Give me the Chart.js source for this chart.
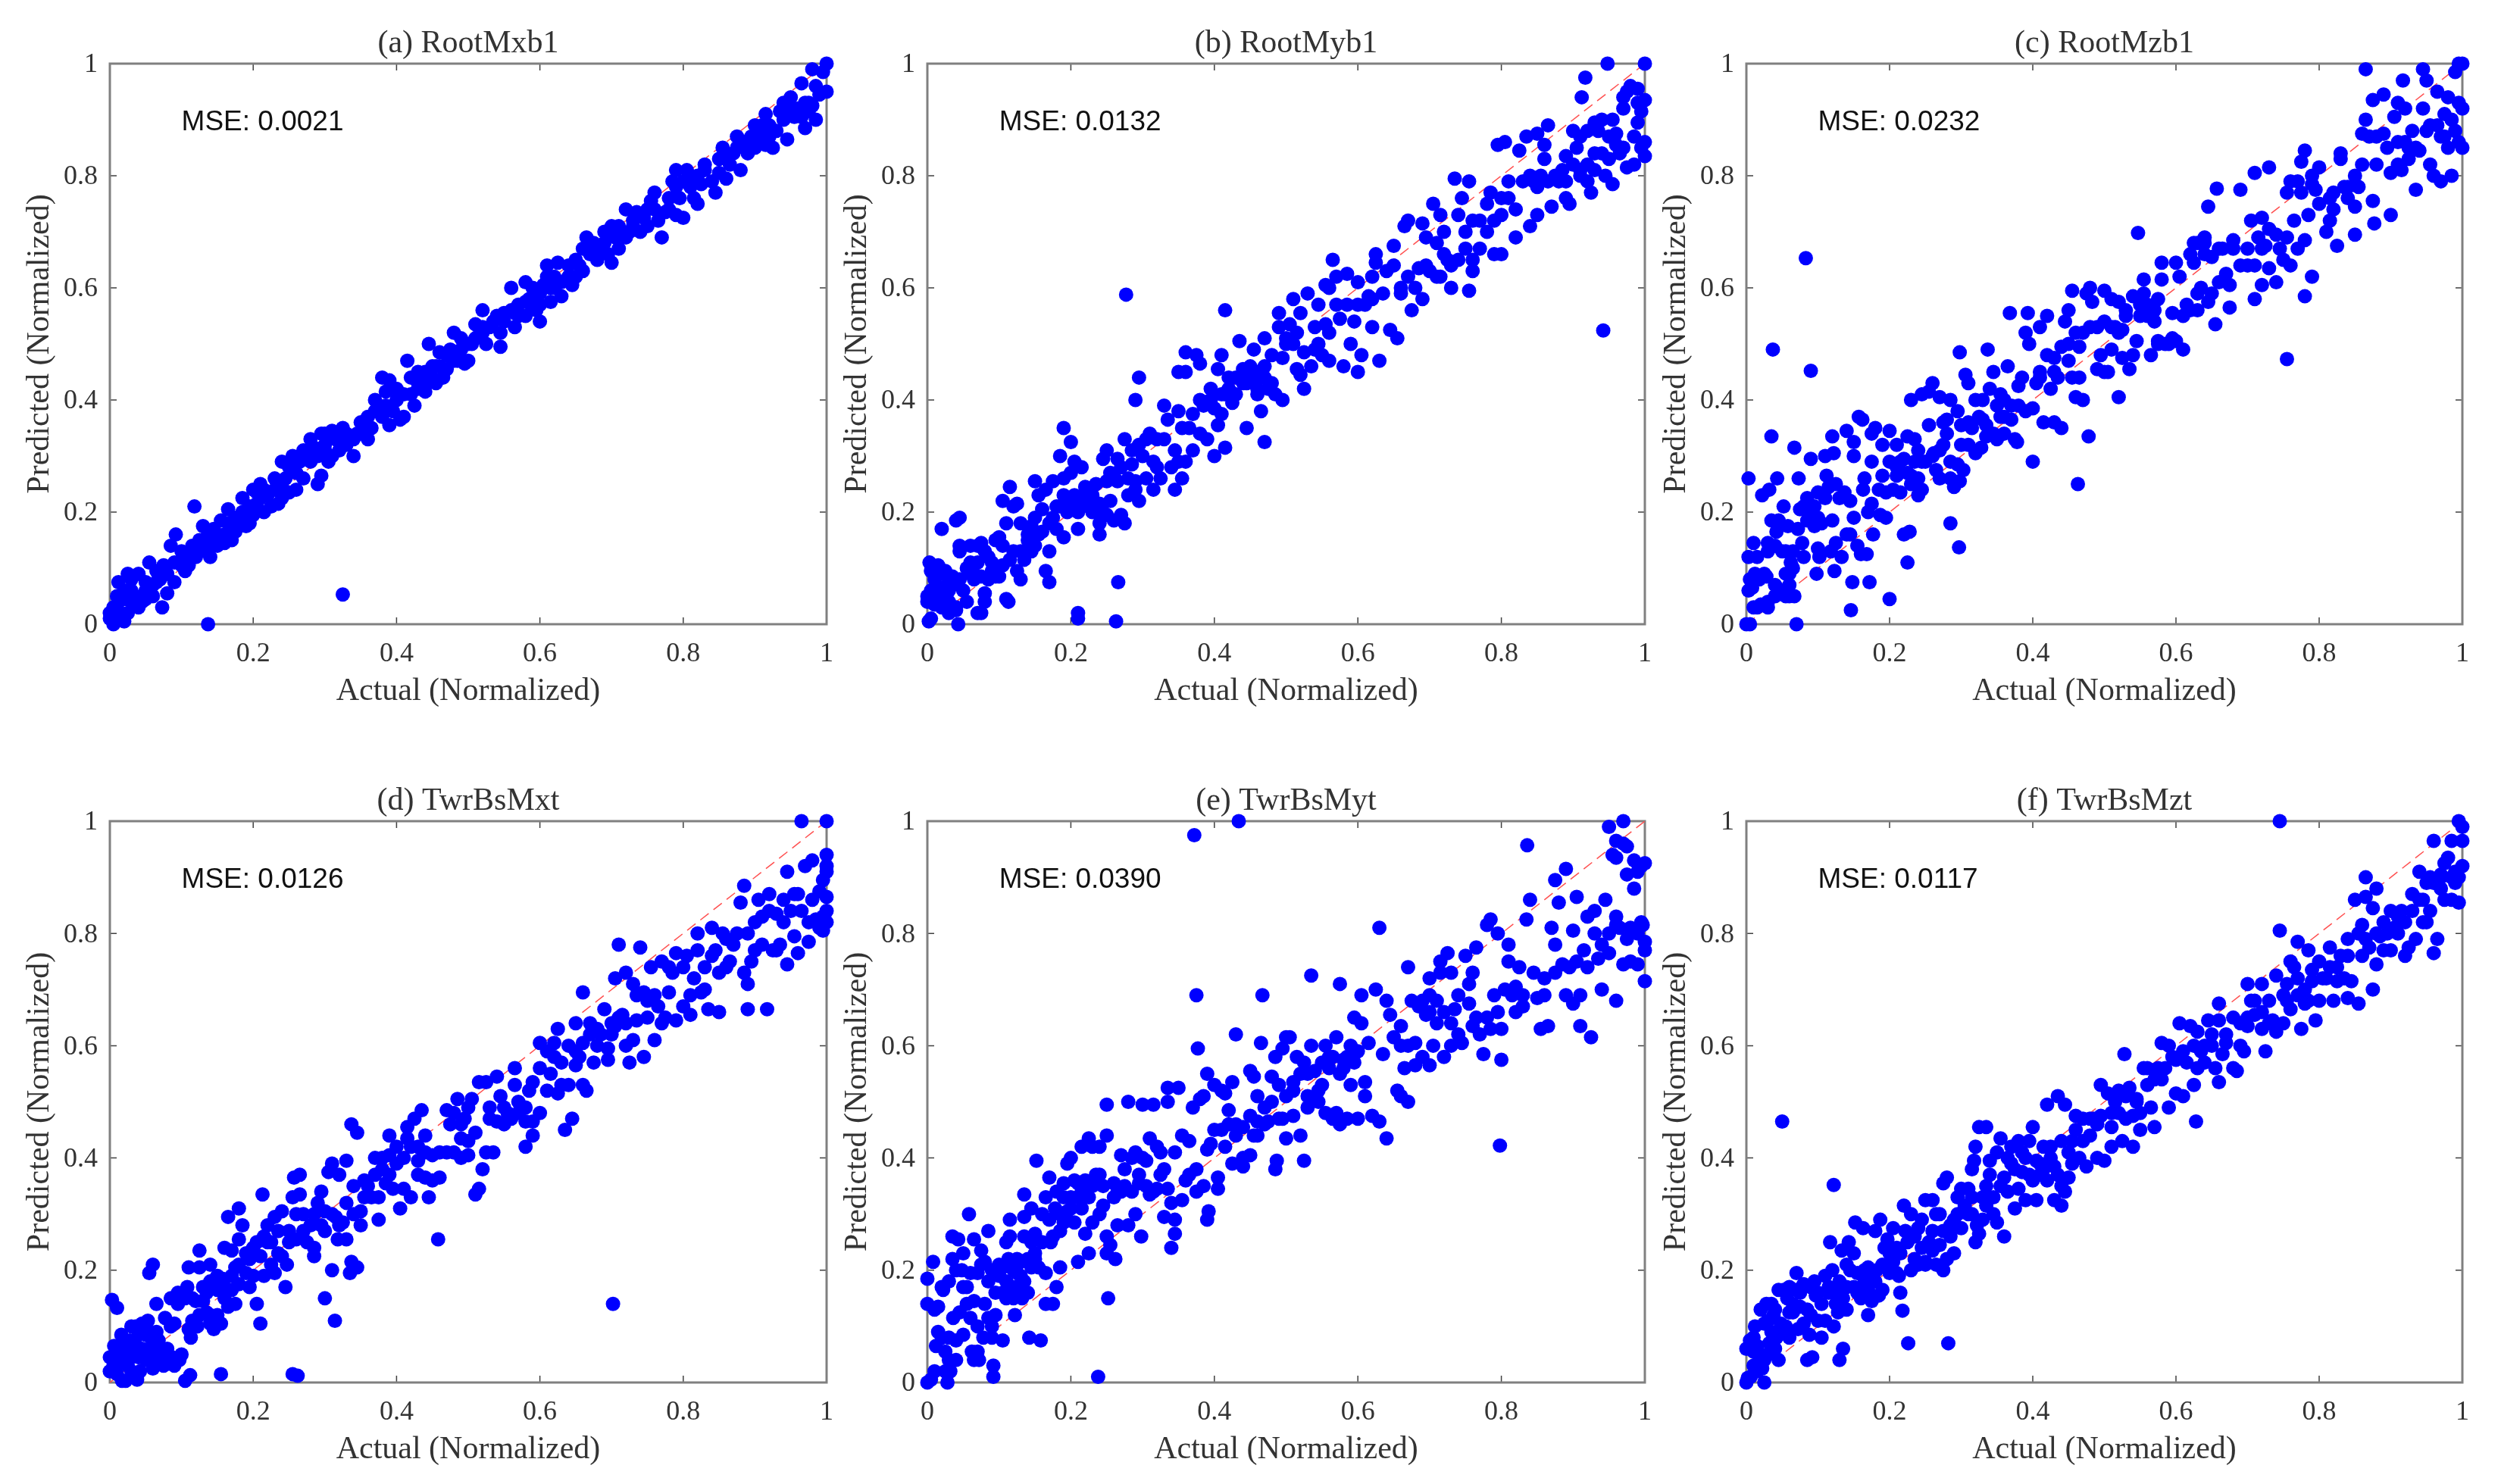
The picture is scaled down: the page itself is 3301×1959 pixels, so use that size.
<!DOCTYPE html>
<html>
<head>
<meta charset="utf-8">
<title>Predicted vs actual</title>
<script src="https://cdn.jsdelivr.net/npm/chart.js@4"></script>
<style>
  html, body { margin: 0; background: #fff; }
  #page { position: relative; width: 3301px; height: 1959px; overflow: hidden; }
  canvas { position: absolute; }
</style>
</head>
<body>
<div id="page"></div>
<script>
const panelTitles = ['(a) RootMxb1', '(b) RootMyb1', '(c) RootMzb1', '(d) TwrBsMxt', '(e) TwrBsMyt', '(f) TwrBsMzt'];
const mseLabels = ['MSE: 0.0021', 'MSE: 0.0132', 'MSE: 0.0232', 'MSE: 0.0126', 'MSE: 0.0390', 'MSE: 0.0117'];
const tickLabels = ['0', '0.2', '0.4', '0.6', '0.8', '1'];
const xAxisLabel = 'Actual (Normalized)';
const yAxisLabel = 'Predicted (Normalized)';
const referenceLine = [[0, 0], [1, 1]];

// Points are [actual, predicted]
const rootMxb1Points = [
[0,.01],[0,.02],[.005,0],[.01,.01],[.015,.015],[.02,.005],[.025,.02],[.005,.03],[.01,.05],[.012,.075],[.02,.045],[.03,.06],[.025,.09],[.04,.09],[.045,.04],[.04,.03],[.05,.045],[.055,.11],[.05,.075],[.06,.07],[.065,.095],[.07,.08],[.073,.03],[.075,.105],[.08,.055],[.09,.075],[.085,.14],[.092,.16],[.1,.13],[.105,.095],[.11,.105],[.115,.14],[.118,.21],[.125,.15],[.13,.175],[.135,.13],[.137,0],[.14,.12],[.145,.17],[.15,.14],[.155,.185],[.16,.16],[.165,.205],[.17,.15],[.175,.19],[.18,.18],[.185,.225],[.19,.2],[.195,.18],[.2,.24],[.205,.215],[.21,.25],[.215,.2],[.22,.23],[.23,.26],[.235,.215],[.24,.245],[.25,.235],[.24,.29],[.255,.3],[.26,.27],[.27,.26],[.27,.31],[.28,.33],[.28,.29],[.29,.25],[.295,.265],[.295,.34],[.3,.32],[.305,.29],[.31,.345],[.32,.31],[.325,.053],[.325,.35],[.34,.33],[.34,.3],[.35,.36],[.36,.33],[.36,.37],[.37,.4],[.38,.37],[.38,.44],[.385,.415],[.39,.355],[.39,.435],[.4,.4],[.405,.365],[.41,.37],[.42,.44],[.415,.47],[.425,.39],[.43,.45],[.44,.415],[.44,.45],[.445,.5],[.45,.46],[.455,.43],[.46,.485],[.465,.44],[.47,.455],[.48,.52],[.48,.47],[.49,.49],[.495,.465],[.5,.47],[.505,.5],[.51,.535],[.515,.515],[.52,.56],[.525,.5],[.53,.53],[.54,.55],[.545,.495],[.55,.54],[.56,.56],[.56,.6],[.565,.53],[.57,.57],[.58,.55],[.58,.61],[.585,.58],[.59,.6],[.595,.56],[.6,.54],[.6,.59],[.61,.62],[.61,.64],[.615,.575],[.62,.6],[.625,.645],[.63,.585],[.64,.62],[.65,.62],[.655,.64],[.66,.63],[.67,.66],[.665,.69],[.675,.68],[.68,.65],[.69,.7],[.695,.66],[.7,.71],[.7,.645],[.71,.67],[.72,.69],[.72,.74],[.73,.72],[.74,.7],[.735,.735],[.75,.71],[.755,.755],[.76,.77],[.765,.72],[.77,.69],[.78,.74],[.79,.73],[.785,.79],[.79,.81],[.795,.76],[.8,.725],[.805,.81],[.81,.78],[.815,.76],[.82,.75],[.82,.8],[.83,.81],[.84,.79],[.845,.77],[.85,.83],[.855,.85],[.86,.795],[.87,.84],[.875,.87],[.88,.81],[.885,.86],[.89,.84],[.895,.87],[.9,.85],[.905,.88],[.91,.87],[.915,.91],[.92,.89],[.925,.85],[.93,.88],[.94,.93],[.945,.865],[.95,.94],[.955,.905],[.96,.92],[.965,.965],[.97,.885],[.975,.93],[.98,.99],[.985,.9],[.985,.96],[.99,.945],[.995,.985],[1,1],[1,.95],
[.03,.04],[.06,.05],[.075,.09],[.1,.105],[.12,.12],[.135,.155],[.155,.155],[.17,.175],[.19,.175],[.205,.235],[.225,.21],[.24,.225],[.265,.29],[.285,.315],[.31,.3],[.33,.32],[.345,.34],[.365,.35],[.375,.39],[.395,.38],[.41,.41],[.43,.42],[.455,.46],[.475,.49],[.5,.5],[.52,.53],[.545,.52],[.565,.555],[.59,.565],[.605,.605],[.63,.61],[.645,.605],[.66,.67],[.685,.675],[.705,.69],[.725,.7],[.745,.725],[.775,.735],[.8,.79],[.825,.785],[.85,.805],[.865,.82],[.9,.89],[.915,.855],[.935,.915],[.965,.905],[.98,.925],
[.01,.03],[.02,.06],[.03,.08],[.035,.05],[.05,.06],[.065,.075],[.08,.09],[.09,.11],[.1,.115],[.11,.125],[.125,.13],[.14,.14],[.15,.16],[.16,.145],[.165,.18],[.175,.165],[.185,.2],[.195,.21],[.2,.195],[.21,.225],[.215,.24],[.23,.24],[.245,.26],[.25,.28],[.26,.24],[.275,.3],[.29,.3],[.3,.31],[.3,.34],[.315,.33],[.33,.34],[.35,.34],[.355,.35],[.37,.38],[.385,.39],[.4,.42],[.42,.41],[.43,.43],[.44,.43],[.45,.44],[.46,.46],[.47,.48],[.485,.47],[.49,.51],[.51,.51],[.52,.52],[.535,.54],[.55,.555],[.57,.55],[.58,.575],[.6,.57],[.615,.6],[.62,.62],[.64,.64],[.65,.65],[.67,.68],[.68,.67],[.69,.68],[.71,.71],[.715,.7],[.73,.71],[.75,.74],[.76,.74],[.78,.76],[.79,.78],[.81,.8],[.83,.82],[.86,.83],[.875,.85],[.89,.86],[.91,.89],[.92,.87],[.94,.9],[.95,.92],[.97,.93],[.975,.915]
];

const rootMyb1Points = [
[0,.05],[0,.04],[.005,.06],[.003,.11],[.005,.095],[.01,.08],[.015,.105],[.02,.09],[.02,.17],[.025,.095],[.03,.075],[.03,.04],[.01,.035],[.015,.055],[.02,.03],[.025,.05],[.03,.06],[.035,.07],[.035,.085],[.04,.025],[.04,.03],[.045,.08],[.04,.185],[.045,.19],[.045,.14],[.045,.13],[.055,.04],[.055,.1],[.06,.14],[.06,.09],[.065,.105],[.07,.11],[.07,.14],[.07,.02],[.075,.02],[.075,.085],[.08,.13],[.08,.055],[.08,.04],[.075,.145],[.085,.08],[.09,.11],[.095,.15],[.095,.085],[.1,.155],[.1,.085],[.105,.14],[.105,.105],[.105,.22],[.11,.18],[.11,.045],[.113,.04],[.115,.115],[.115,.245],[.12,.21],[.125,.095],[.13,.08],[.125,.215],[.13,.13],[.13,.18],[.135,.115],[.14,.15],[.14,.16],[.145,.175],[.15,.14],[.15,.19],[.15,.255],[.155,.23],[.16,.165],[.16,.205],[.165,.24],[.165,.095],[.17,.13],[.17,.18],[.17,.075],[.175,.255],[.18,.21],[.18,.17],[.185,.3],[.19,.155],[.19,.26],[.19,.23],[.19,.35],[.2,.215],[.2,.27],[.2,.325],[.205,.29],[.21,.2],[.21,.225],[.21,.17],[.21,.01],[.21,.02],[.215,.28],[.22,.245],[.225,.21],[.23,.23],[.235,.25],[.24,.18],[.24,.215],[.24,.16],[.245,.2],[.25,.255],[.245,.295],[.25,.31],[.255,.27],[.255,.22],[.26,.185],[.263,.005],[.266,.075],[.265,.255],[.265,.295],[.27,.28],[.27,.195],[.275,.18],[.275,.33],[.277,.588],[.28,.23],[.285,.285],[.285,.31],[.29,.4],[.29,.255],[.29,.24],[.295,.44],[.295,.22],[.3,.3],[.305,.26],[.31,.34],[.315,.24],[.315,.29],[.32,.33],[.325,.26],[.33,.39],[.33,.33],[.335,.365],[.34,.28],[.345,.31],[.345,.24],[.35,.45],[.35,.38],[.355,.35],[.355,.26],[.36,.45],[.36,.29],[.36,.485],[.365,.35],[.37,.31],[.37,.375],[.375,.48],[.38,.34],[.38,.465],[.385,.39],[.39,.33],[.395,.42],[.395,.4],[.4,.3],[.4,.385],[.405,.355],[.405,.455],[.41,.48],[.41,.375],[.415,.56],[.415,.41],[.415,.315],[.42,.42],[.425,.395],[.43,.41],[.435,.44],[.435,.505],[.44,.455],[.445,.35],[.445,.43],[.45,.46],[.45,.44],[.455,.49],[.46,.42],[.46,.41],[.465,.38],[.47,.46],[.47,.325],[.47,.51],[.475,.42],[.48,.48],[.485,.41],[.49,.53],[.495,.4],[.495,.475],[.49,.555],[.5,.51],[.505,.535],[.51,.5],[.51,.58],[.515,.455],[.52,.555],[.52,.445],[.525,.485],[.525,.42],[.53,.59],[.535,.46],[.54,.53],[.545,.5],[.545,.57],[.55,.48],[.555,.535],[.555,.605],[.56,.47],[.56,.52],[.565,.65],[.57,.62],[.57,.57],[.575,.545],[.58,.46],[.585,.57],[.585,.625],[.59,.5],[.595,.54],[.6,.45],[.6,.61],[.605,.48],[.61,.57],[.615,.585],[.62,.53],[.62,.62],[.625,.645],[.625,.66],[.63,.47],[.635,.59],[.64,.63],[.645,.525],[.65,.64],[.65,.675],[.655,.51],[.66,.6],[.665,.71],[.67,.72],[.67,.62],[.675,.56],[.68,.6],[.685,.635],[.69,.58],[.69,.715],[.695,.69],[.7,.63],[.705,.75],[.71,.62],[.71,.68],[.715,.73],[.72,.66],[.72,.7],[.73,.64],[.73,.6],[.735,.795],[.74,.73],[.74,.65],[.745,.76],[.75,.7],[.75,.67],[.755,.595],[.76,.72],[.76,.65],[.76,.63],[.755,.79],[.77,.67],[.78,.7],[.78,.75],[.79,.66],[.79,.72],[.8,.76],[.8,.66],[.81,.79],[.81,.76],[.82,.74],[.795,.855],[.805,.86],[.82,.69],[.825,.845],[.84,.8],[.85,.78],[.84,.71],[.835,.87],[.85,.73],[.85,.875],[.86,.83],[.87,.745],[.86,.855],[.865,.89],[.88,.79],[.885,.81],[.89,.76],[.89,.835],[.9,.88],[.895,.75],[.905,.85],[.91,.8],[.92,.79],[.925,.77],[.93,.81],[.935,.88],[.94,.84],[.942,.524],[.945,.8],[.95,.83],[.955,.785],[.96,.875],[.965,.84],[.97,.92],[.975,.815],[.98,.96],[.985,.82],[.99,.895],[.995,.85],[1,.935],[1,.835],[1,.86],[.995,.915],[.985,.87],[.97,.94],[.975,.95],[.96,.855],[.94,.9],[.93,.895],[.92,.88],[.91,.87],[.917,.975],[.912,.94],[.948,1],[1,1],[.002,.005],[.005,.01],[.043,0],[.955,.9],[.99,.955],
[.01,.045],[.02,.065],[.03,.02],[.05,.06],[.06,.11],[.065,.08],[.085,.12],[.09,.095],[.12,.13],[.135,.13],[.145,.13],[.155,.16],[.175,.19],[.185,.21],[.195,.2],[.205,.23],[.215,.21],[.225,.225],[.23,.2],[.25,.195],[.26,.265],[.28,.26],[.295,.32],[.305,.33],[.32,.28],[.35,.29],[.38,.4],[.41,.41],[.42,.44],[.43,.44],[.44,.43],[.455,.43],[.46,.45],[.47,.44],[.48,.43],[.5,.5],[.515,.52],[.54,.49],[.56,.6],[.6,.57],[.62,.58],[.66,.59],[.695,.64],[.715,.62],[.725,.65],[.77,.72],[.785,.77],[.8,.73],[.83,.79],[.845,.79],[.855,.8],[.865,.79],[.875,.8],[.89,.79],[.9,.82],[.91,.81],[.92,.82],[.93,.84],[.95,.87],[.97,.85],[.99,.93]
];

const rootMzb1Points = [
[0,0],[.005,0],[.003,.26],[.003,.12],[.005,.08],[.003,.06],[.008,.065],[.01,.145],[.012,.09],[.015,.03],[.015,.12],[.018,.08],[.02,.035],[.022,.23],[.025,.09],[.028,.085],[.03,.145],[.03,.03],[.03,.13],[.032,.24],[.035,.185],[.035,.335],[.037,.49],[.04,.14],[.04,.05],[.042,.165],[.045,.185],[.043,.26],[.05,.06],[.05,.13],[.052,.21],[.055,.05],[.055,.13],[.058,.175],[.06,.09],[.06,.07],[.062,.11],[.065,.13],[.067,.315],[.067,.05],[.07,0],[.072,.17],[.073,.26],[.075,.205],[.078,.145],[.08,.12],[.08,.21],[.083,.653],[.085,.225],[.085,.185],[.09,.295],[.09,.452],[.092,.19],[.095,.175],[.098,.09],[.1,.135],[.1,.235],[.102,.12],[.105,.18],[.11,.225],[.11,.3],[.112,.265],[.115,.245],[.118,.13],[.12,.335],[.12,.185],[.122,.305],[.125,.145],[.125,.25],[.123,.095],[.13,.225],[.133,.12],[.137,.235],[.14,.16],[.14,.345],[.145,.16],[.146,.025],[.148,.075],[.145,.22],[.15,.3],[.15,.325],[.15,.19],[.155,.14],[.157,.37],[.16,.125],[.162,.365],[.163,.24],[.165,.26],[.168,.125],[.17,.2],[.172,.075],[.175,.34],[.175,.29],[.175,.215],[.177,.16],[.18,.35],[.185,.24],[.187,.195],[.19,.265],[.19,.32],[.195,.235],[.195,.19],[.2,.29],[.2,.045],[.2,.345],[.205,.24],[.21,.32],[.21,.265],[.215,.235],[.22,.295],[.22,.16],[.225,.335],[.225,.11],[.228,.165],[.23,.4],[.23,.265],[.235,.33],[.24,.23],[.24,.31],[.245,.41],[.245,.24],[.25,.29],[.255,.415],[.255,.355],[.26,.43],[.262,.305],[.265,.275],[.27,.405],[.27,.26],[.275,.32],[.28,.34],[.28,.365],[.285,.29],[.285,.18],[.285,.26],[.285,.4],[.29,.245],[.295,.285],[.295,.38],[.298,.255],[.297,.137],[.298,.485],[.3,.355],[.303,.275],[.306,.445],[.31,.43],[.31,.32],[.315,.35],[.32,.305],[.32,.4],[.325,.37],[.328,.315],[.33,.4],[.335,.335],[.335,.355],[.337,.49],[.34,.42],[.345,.45],[.35,.33],[.35,.39],[.355,.41],[.36,.34],[.36,.37],[.365,.46],[.37,.365],[.368,.555],[.375,.33],[.378,.325],[.38,.425],[.38,.39],[.385,.44],[.39,.38],[.39,.52],[.393,.555],[.395,.5],[.4,.29],[.4,.385],[.405,.43],[.41,.45],[.41,.53],[.415,.36],[.42,.48],[.42,.55],[.425,.42],[.43,.475],[.43,.36],[.435,.44],[.44,.35],[.44,.495],[.445,.54],[.45,.47],[.45,.56],[.455,.595],[.455,.44],[.46,.405],[.463,.25],[.465,.495],[.465,.44],[.47,.4],[.47,.52],[.475,.59],[.478,.335],[.48,.6],[.483,.575],[.49,.455],[.49,.53],[.495,.48],[.5,.595],[.5,.54],[.505,.45],[.51,.49],[.51,.58],[.515,.53],[.52,.405],[.52,.575],[.525,.475],[.525,.525],[.53,.55],[.535,.455],[.54,.585],[.54,.48],[.545,.505],[.547,.698],[.55,.55],[.555,.59],[.555,.615],[.56,.57],[.565,.48],[.57,.54],[.57,.56],[.575,.58],[.575,.505],[.58,.615],[.58,.645],[.59,.5],[.595,.555],[.6,.505],[.6,.645],[.605,.62],[.61,.49],[.61,.55],[.615,.57],[.62,.66],[.625,.68],[.625,.645],[.63,.59],[.63,.56],[.635,.6],[.64,.68],[.64,.69],[.645,.575],[.645,.745],[.65,.59],[.65,.655],[.655,.535],[.657,.777],[.66,.61],[.665,.67],[.67,.625],[.675,.605],[.675,.565],[.68,.685],[.69,.775],[.69,.64],[.7,.67],[.7,.64],[.705,.72],[.71,.58],[.71,.805],[.715,.69],[.72,.605],[.72,.725],[.725,.675],[.73,.635],[.73,.705],[.73,.815],[.74,.61],[.74,.695],[.75,.65],[.755,.473],[.755,.69],[.755,.77],[.76,.64],[.765,.72],[.77,.79],[.77,.67],[.775,.825],[.78,.685],[.78,.585],[.78,.845],[.785,.73],[.79,.785],[.79,.62],[.795,.775],[.8,.75],[.8,.815],[.81,.7],[.815,.72],[.815,.76],[.82,.74],[.825,.675],[.83,.84],[.83,.83],[.835,.78],[.84,.76],[.85,.8],[.85,.695],[.85,.745],[.855,.78],[.86,.875],[.865,.9],[.865,.99],[.875,.755],[.875,.935],[.88,.82],[.877,.715],[.89,.875],[.89,.945],[.895,.85],[.9,.805],[.9,.73],[.905,.905],[.91,.93],[.91,.82],[.915,.81],[.917,.97],[.92,.92],[.925,.85],[.925,.83],[.93,.88],[.935,.775],[.94,.845],[.945,.92],[.945,.99],[.95,.97],[.955,.82],[.955,.89],[.96,.8],[.965,.95],[.97,.79],[.97,.87],[.975,.91],[.98,.85],[.98,.94],[.985,.8],[.99,.88],[.995,.93],[.995,.86],[1,.85],[1,.92],[.99,.985],[.995,1],[1,1],
[.01,.03],[.03,.04],[.04,.07],[.045,.06],[.055,.09],[.06,.05],[.065,.1],[.09,.2],[.095,.21],[.1,.19],[.21,.28],[.215,.29],[.225,.27],[.23,.25],[.235,.29],[.24,.26],[.245,.29],[.26,.3],[.27,.31],[.275,.36],[.3,.32],[.31,.36],[.33,.365],[.345,.34],[.355,.37],[.36,.4],[.37,.39],[.41,.44],[.43,.45],[.45,.5],[.46,.52],[.48,.53],[.5,.45],[.51,.53],[.52,.52],[.53,.56],[.55,.57],[.56,.55],[.575,.5],[.585,.5],[.595,.51],[.62,.56],[.63,.68],[.64,.66],[.66,.67],[.68,.67],[.71,.64],[.72,.67],[.745,.67],[.76,.79],[.775,.77],[.79,.8],[.82,.77],[.84,.78],[.86,.82],[.87,.87],[.88,.87],[.91,.86],[.92,.86],[.935,.85],[.95,.88],[.965,.89],[.975,.87],[.985,.9]
];

const twrBsMxtPoints = [
[0,.045],[0,.02],[.003,.147],[.005,.03],[.006,.065],[.01,.133],[.01,.015],[.012,.05],[.015,.065],[.016,.085],[.017,.003],[.02,.035],[.022,.003],[.025,.03],[.028,.075],[.03,.1],[.03,.045],[.033,.015],[.036,.1],[.038,.06],[.038,.005],[.04,.045],[.042,.02],[.045,.105],[.05,.085],[.05,.04],[.053,.11],[.055,.195],[.057,.08],[.06,.21],[.06,.065],[.06,.025],[.065,.14],[.068,.075],[.07,.04],[.075,.03],[.077,.115],[.08,.06],[.085,.15],[.087,.045],[.09,.105],[.095,.16],[.097,.04],[.1,.05],[.105,.003],[.108,.17],[.11,.095],[.112,.013],[.113,.08],[.11,.205],[.115,.15],[.12,.145],[.122,.1],[.125,.205],[.125,.235],[.13,.145],[.135,.125],[.14,.12],[.14,.105],[.14,.18],[.14,.21],[.145,.095],[.15,.12],[.15,.165],[.155,.015],[.155,.105],[.157,.185],[.16,.17],[.16,.24],[.165,.135],[.165,.295],[.17,.235],[.17,.165],[.175,.14],[.175,.205],[.18,.175],[.18,.255],[.18,.31],[.185,.28],[.19,.195],[.19,.23],[.195,.17],[.2,.24],[.205,.14],[.21,.105],[.21,.225],[.213,.335],[.215,.19],[.22,.25],[.22,.28],[.225,.21],[.23,.195],[.23,.295],[.235,.27],[.24,.225],[.24,.305],[.245,.17],[.247,.21],[.25,.27],[.255,.015],[.255,.33],[.257,.365],[.26,.255],[.262,.012],[.265,.335],[.265,.37],[.27,.3],[.275,.25],[.28,.28],[.285,.225],[.285,.24],[.29,.32],[.295,.28],[.295,.34],[.3,.15],[.3,.305],[.305,.375],[.31,.39],[.31,.2],[.314,.11],[.315,.295],[.318,.255],[.32,.37],[.325,.285],[.33,.395],[.33,.255],[.33,.32],[.335,.195],[.337,.215],[.337,.46],[.34,.35],[.345,.205],[.345,.445],[.35,.28],[.35,.305],[.355,.33],[.36,.35],[.37,.4],[.375,.29],[.375,.33],[.38,.38],[.385,.355],[.39,.405],[.395,.345],[.39,.44],[.4,.39],[.405,.31],[.41,.345],[.415,.435],[.42,.33],[.415,.455],[.425,.47],[.43,.395],[.43,.42],[.44,.365],[.435,.485],[.44,.44],[.45,.405],[.45,.36],[.445,.33],[.458,.255],[.46,.41],[.46,.365],[.47,.485],[.475,.46],[.48,.41],[.485,.505],[.49,.4],[.49,.435],[.495,.47],[.5,.43],[.5,.405],[.505,.505],[.51,.445],[.51,.335],[.515,.345],[.515,.535],[.52,.38],[.525,.535],[.525,.41],[.53,.49],[.535,.41],[.54,.545],[.54,.465],[.545,.51],[.55,.46],[.555,.48],[.56,.47],[.565,.56],[.565,.53],[.57,.5],[.58,.42],[.58,.49],[.585,.52],[.59,.44],[.59,.465],[.59,.535],[.6,.48],[.6,.605],[.61,.52],[.61,.59],[.615,.55],[.62,.605],[.625,.515],[.625,.63],[.63,.57],[.635,.45],[.64,.53],[.64,.6],[.645,.47],[.65,.565],[.65,.64],[.655,.58],[.66,.605],[.66,.695],[.665,.52],[.67,.64],[.675,.57],[.68,.6],[.685,.62],[.69,.665],[.695,.595],[.695,.575],[.7,.62],[.702,.14],[.705,.635],[.705,.72],[.71,.78],[.715,.655],[.72,.73],[.72,.6],[.725,.57],[.73,.61],[.73,.71],[.735,.645],[.74,.775],[.745,.695],[.745,.58],[.75,.65],[.755,.74],[.76,.61],[.765,.67],[.77,.75],[.775,.65],[.78,.695],[.785,.73],[.79,.645],[.79,.765],[.8,.67],[.805,.76],[.81,.655],[.815,.72],[.82,.8],[.825,.695],[.83,.74],[.835,.665],[.84,.81],[.845,.77],[.85,.66],[.85,.73],[.855,.8],[.86,.79],[.865,.75],[.87,.78],[.88,.855],[.885,.885],[.885,.73],[.89,.71],[.89,.665],[.895,.75],[.9,.82],[.905,.86],[.91,.78],[.917,.665],[.92,.87],[.925,.77],[.93,.835],[.935,.78],[.94,.82],[.945,.91],[.945,.745],[.955,.795],[.955,.87],[.96,.765],[.965,.84],[.97,.92],[.975,.785],[.98,.93],[.985,.825],[.99,.875],[.995,.83],[.995,.805],[1,.82],[1,.865],[1,.92],[1,.94],[.995,.895],[1,.84],[1,.91],[.965,1],[1,1],
[.02,.06],[.025,.055],[.03,.02],[.035,.075],[.04,.09],[.045,.06],[.05,.1],[.055,.05],[.06,.045],[.065,.09],[.07,.06],[.08,.04],[.085,.1],[.09,.03],[.095,.14],[.105,.15],[.115,.11],[.125,.12],[.13,.17],[.135,.16],[.145,.18],[.15,.19],[.16,.15],[.17,.19],[.18,.21],[.195,.22],[.2,.19],[.205,.25],[.215,.26],[.225,.25],[.235,.23],[.25,.25],[.26,.3],[.27,.27],[.285,.3],[.3,.27],[.31,.3],[.32,.28],[.34,.3],[.355,.36],[.365,.33],[.37,.37],[.38,.4],[.39,.37],[.4,.42],[.41,.4],[.42,.42],[.43,.37],[.44,.41],[.47,.41],[.48,.48],[.49,.46],[.5,.49],[.53,.47],[.55,.49],[.57,.48],[.58,.465],[.6,.56],[.62,.58],[.63,.53],[.65,.59],[.66,.53],[.67,.62],[.68,.63],[.7,.64],[.71,.65],[.72,.64],[.735,.69],[.75,.68],[.76,.69],[.77,.64],[.78,.74],[.8,.74],[.81,.69],[.82,.77],[.83,.7],[.84,.76],[.86,.74],[.875,.8],[.89,.8],[.9,.77],[.91,.83],[.92,.84],[.93,.77],[.94,.86],[.95,.84],[.96,.87],[.975,.82],[.98,.86],[.99,.81]
];

const twrBsMytPoints = [
[0,.185],[0,.14],[0,0],[.005,.005],[.008,.215],[.01,.13],[.012,.065],[.015,.09],[.015,.135],[.02,.17],[.022,.165],[.025,.055],[.025,.02],[.028,0],[.03,.04],[.03,.08],[.032,.02],[.035,.26],[.035,.22],[.036,.115],[.04,.04],[.04,.2],[.04,.075],[.043,.255],[.045,.125],[.048,.2],[.05,.085],[.05,.17],[.055,.17],[.06,.195],[.058,.3],[.06,.115],[.062,.055],[.065,.04],[.065,.145],[.065,.255],[.07,.1],[.07,.055],[.07,.195],[.072,.04],[.075,.235],[.078,.08],[.08,.215],[.085,.115],[.085,.18],[.085,.27],[.09,.2],[.09,.1],[.09,.08],[.092,.01],[.092,.03],[.095,.12],[.095,.16],[.1,.21],[.105,.16],[.105,.075],[.105,.205],[.11,.25],[.11,.15],[.113,.22],[.115,.26],[.115,.29],[.12,.2],[.12,.15],[.122,.12],[.125,.17],[.125,.195],[.13,.215],[.13,.19],[.132,.15],[.135,.295],[.135,.26],[.135,.335],[.14,.22],[.14,.16],[.142,.08],[.145,.31],[.145,.25],[.145,.205],[.15,.265],[.15,.22],[.152,.395],[.155,.205],[.158,.075],[.16,.3],[.165,.195],[.165,.14],[.165,.33],[.17,.365],[.17,.29],[.172,.25],[.175,.14],[.178,.31],[.18,.34],[.18,.17],[.185,.27],[.185,.205],[.19,.285],[.19,.355],[.195,.305],[.195,.39],[.2,.4],[.2,.33],[.205,.285],[.21,.215],[.21,.355],[.215,.42],[.215,.34],[.22,.265],[.22,.36],[.225,.23],[.225,.435],[.23,.285],[.23,.42],[.235,.37],[.238,.01],[.24,.3],[.24,.42],[.245,.35],[.245,.315],[.25,.23],[.25,.26],[.252,.15],[.25,.495],[.25,.44],[.255,.245],[.26,.355],[.262,.22],[.265,.28],[.27,.34],[.27,.405],[.275,.38],[.28,.28],[.28,.5],[.285,.34],[.29,.3],[.29,.41],[.295,.355],[.295,.37],[.298,.26],[.3,.495],[.305,.395],[.31,.435],[.31,.335],[.315,.495],[.32,.42],[.32,.345],[.325,.41],[.33,.295],[.33,.38],[.335,.5],[.335,.345],[.335,.525],[.34,.24],[.34,.32],[.345,.29],[.345,.41],[.345,.265],[.35,.525],[.355,.44],[.355,.325],[.36,.36],[.365,.43],[.365,.37],[.37,.49],[.372,.975],[.375,.38],[.375,.69],[.375,.34],[.377,.595],[.38,.505],[.385,.35],[.39,.415],[.39,.55],[.39,.29],[.392,.305],[.395,.425],[.4,.53],[.4,.45],[.405,.345],[.405,.365],[.41,.45],[.415,.515],[.415,.42],[.42,.46],[.42,.485],[.425,.39],[.425,.535],[.43,.62],[.43,.44],[.434,1],[.44,.4],[.44,.455],[.44,.385],[.45,.475],[.45,.555],[.45,.405],[.455,.44],[.455,.545],[.46,.465],[.46,.51],[.465,.605],[.467,.69],[.47,.49],[.475,.465],[.48,.5],[.48,.545],[.485,.58],[.485,.38],[.487,.395],[.49,.53],[.495,.595],[.495,.47],[.5,.615],[.5,.51],[.5,.435],[.505,.615],[.51,.475],[.51,.535],[.515,.58],[.52,.44],[.525,.395],[.525,.57],[.53,.49],[.53,.55],[.535,.6],[.535,.725],[.54,.555],[.545,.5],[.55,.53],[.555,.6],[.555,.48],[.56,.58],[.565,.47],[.57,.48],[.57,.615],[.575,.46],[.575,.71],[.58,.56],[.58,.575],[.585,.47],[.59,.53],[.59,.6],[.595,.65],[.6,.47],[.6,.59],[.605,.69],[.605,.64],[.61,.51],[.61,.535],[.615,.605],[.62,.475],[.625,.7],[.63,.465],[.63,.81],[.635,.585],[.64,.435],[.64,.68],[.645,.655],[.65,.615],[.655,.52],[.66,.51],[.66,.635],[.665,.56],[.67,.6],[.67,.5],[.67,.74],[.675,.68],[.68,.565],[.68,.605],[.685,.67],[.69,.58],[.695,.655],[.7,.72],[.7,.69],[.7,.565],[.705,.6],[.71,.64],[.715,.75],[.715,.73],[.72,.58],[.72,.66],[.725,.765],[.73,.64],[.73,.73],[.735,.665],[.74,.69],[.745,.605],[.75,.76],[.755,.675],[.755,.71],[.76,.635],[.76,.73],[.765,.775],[.77,.62],[.775,.585],[.78,.65],[.78,.815],[.785,.825],[.79,.69],[.795,.8],[.8,.63],[.798,.422],[.8,.575],[.81,.75],[.81,.78],[.82,.705],[.82,.66],[.825,.74],[.83,.67],[.835,.825],[.84,.86],[.845,.73],[.85,.685],[.836,.957],[.855,.63],[.86,.69],[.865,.635],[.87,.81],[.875,.895],[.875,.78],[.88,.855],[.885,.745],[.89,.915],[.895,.74],[.9,.675],[.9,.805],[.905,.865],[.91,.635],[.91,.69],[.915,.77],[.92,.83],[.925,.615],[.93,.84],[.935,.755],[.94,.7],[.945,.86],[.95,.765],[.955,.94],[.96,.68],[.96,.83],[.965,.81],[.97,.745],[.975,.79],[.975,.905],[.98,.75],[.985,.88],[.99,.745],[.995,.82],[.997,.815],[1,.785],[1,.77],[1,.715],[1,.925],[.95,.99],[.97,1],[.97,.96],[.96,.965],[.975,.955],[.96,.935],[.985,.93],[.99,.91],[.995,.92],
[.01,.02],[.02,.08],[.03,.18],[.05,.23],[.055,.14],[.075,.21],[.08,.14],[.1,.19],[.11,.18],[.115,.21],[.12,.17],[.125,.22],[.135,.18],[.15,.23],[.16,.25],[.175,.26],[.185,.3],[.19,.33],[.2,.31],[.205,.36],[.21,.33],[.215,.31],[.225,.33],[.23,.35],[.24,.37],[.26,.33],[.265,.34],[.275,.35],[.285,.4],[.3,.4],[.305,.35],[.315,.34],[.325,.37],[.385,.51],[.41,.52],[.43,.46],[.46,.44],[.47,.46],[.49,.47],[.51,.52],[.52,.55],[.53,.51],[.545,.52],[.55,.57],[.56,.56],[.565,.58],[.575,.55],[.585,.58],[.595,.57],[.66,.6],[.69,.68],[.7,.66],[.71,.68],[.73,.6],[.74,.62],[.765,.65],[.785,.63],[.795,.66],[.805,.7],[.815,.69],[.83,.69],[.86,.72],[.875,.73],[.89,.69],[.905,.75],[.92,.74],[.93,.8],[.94,.78],[.95,.8],[.96,.815],[.98,.81],[.99,.8]
];

const twrBsMztPoints = [
[0,.06],[0,0],[.002,.008],[.005,.075],[.006,.01],[.01,.08],[.01,.03],[.012,.1],[.015,.065],[.015,.02],[.018,.04],[.02,.13],[.02,.05],[.022,.025],[.025,.105],[.025,0],[.028,.14],[.03,.05],[.032,.07],[.035,.14],[.035,.09],[.038,.12],[.04,.06],[.042,.08],[.045,.165],[.045,.04],[.048,.105],[.05,.465],[.052,.165],[.055,.1],[.057,.15],[.06,.125],[.06,.08],[.065,.125],[.07,.195],[.07,.165],[.072,.095],[.075,.135],[.08,.175],[.08,.105],[.085,.04],[.088,.085],[.09,.12],[.092,.045],[.095,.18],[.097,.155],[.1,.11],[.105,.08],[.11,.19],[.115,.17],[.117,.25],[.12,.2],[.122,.352],[.122,.1],[.125,.14],[.128,.125],[.13,.04],[.13,.18],[.133,.235],[.135,.06],[.135,.15],[.14,.21],[.14,.13],[.143,.25],[.15,.23],[.15,.17],[.152,.285],[.155,.195],[.16,.15],[.163,.275],[.165,.2],[.17,.165],[.17,.12],[.175,.185],[.175,.145],[.18,.27],[.182,.2],[.187,.29],[.19,.165],[.193,.24],[.197,.255],[.2,.195],[.205,.275],[.205,.215],[.21,.24],[.213,.19],[.215,.16],[.218,.128],[.22,.315],[.222,.27],[.226,.07],[.23,.2],[.23,.3],[.235,.22],[.24,.275],[.24,.21],[.245,.29],[.25,.325],[.25,.215],[.255,.25],[.26,.27],[.26,.325],[.265,.21],[.27,.3],[.27,.245],[.275,.355],[.275,.2],[.28,.365],[.28,.22],[.282,.07],[.285,.26],[.29,.29],[.29,.23],[.295,.33],[.3,.345],[.3,.275],[.305,.315],[.31,.3],[.315,.33],[.315,.38],[.318,.395],[.32,.25],[.32,.42],[.322,.28],[.325,.265],[.325,.455],[.33,.33],[.335,.455],[.335,.315],[.34,.37],[.34,.395],[.345,.3],[.35,.285],[.35,.41],[.355,.435],[.36,.26],[.36,.365],[.365,.34],[.37,.39],[.37,.42],[.375,.31],[.38,.43],[.38,.345],[.385,.375],[.39,.4],[.39,.325],[.395,.43],[.4,.36],[.4,.455],[.405,.395],[.405,.325],[.41,.37],[.415,.42],[.42,.36],[.42,.495],[.425,.42],[.43,.325],[.43,.385],[.435,.51],[.44,.35],[.44,.315],[.445,.495],[.445,.34],[.45,.41],[.45,.365],[.455,.43],[.46,.475],[.465,.4],[.47,.47],[.475,.385],[.48,.44],[.485,.47],[.49,.4],[.495,.475],[.5,.395],[.495,.53],[.505,.515],[.51,.455],[.51,.42],[.515,.5],[.52,.48],[.525,.43],[.53,.51],[.528,.585],[.535,.525],[.54,.475],[.54,.42],[.545,.505],[.55,.45],[.55,.48],[.555,.56],[.56,.53],[.565,.49],[.57,.455],[.575,.56],[.58,.54],[.58,.605],[.59,.49],[.59,.6],[.6,.515],[.6,.575],[.605,.64],[.61,.51],[.615,.57],[.62,.635],[.625,.53],[.628,.465],[.63,.625],[.635,.59],[.64,.57],[.645,.645],[.65,.6],[.655,.56],[.66,.535],[.66,.645],[.66,.675],[.665,.585],[.67,.605],[.68,.65],[.68,.56],[.685,.555],[.69,.6],[.695,.59],[.7,.635],[.7,.71],[.705,.68],[.71,.655],[.72,.71],[.72,.66],[.725,.59],[.73,.68],[.735,.645],[.74,.725],[.74,.625],[.745,.805],[.745,1],[.75,.69],[.75,.64],[.755,.71],[.76,.665],[.76,.75],[.765,.74],[.77,.69],[.77,.785],[.775,.63],[.78,.675],[.785,.77],[.79,.715],[.79,.735],[.795,.645],[.8,.68],[.8,.75],[.81,.72],[.815,.775],[.82,.68],[.825,.715],[.83,.76],[.84,.79],[.84,.685],[.845,.715],[.85,.86],[.855,.675],[.86,.815],[.86,.76],[.865,.9],[.865,.865],[.87,.775],[.875,.845],[.875,.7],[.88,.745],[.88,.88],[.885,.795],[.89,.77],[.89,.82],[.9,.84],[.905,.81],[.91,.8],[.915,.84],[.92,.76],[.925,.775],[.93,.87],[.935,.79],[.94,.91],[.945,.86],[.95,.82],[.955,.9],[.955,.84],[.96,.965],[.96,.765],[.965,.79],[.97,.88],[.975,.925],[.98,.935],[.985,.86],[.985,.9],[.985,.965],[.99,.89],[.995,.855],[.995,.9],[1,.92],[1,.965],[.995,1],[1,.99],[.97,.905],[.95,.89],
[.01,.055],[.025,.04],[.03,.11],[.04,.13],[.05,.09],[.06,.17],[.065,.14],[.075,.16],[.085,.13],[.09,.17],[.1,.16],[.105,.14],[.11,.11],[.115,.16],[.125,.16],[.14,.17],[.145,.2],[.155,.16],[.165,.18],[.17,.205],[.18,.18],[.185,.155],[.19,.21],[.2,.23],[.21,.195],[.215,.23],[.225,.25],[.235,.26],[.245,.24],[.25,.21],[.26,.235],[.265,.3],[.275,.27],[.285,.28],[.295,.3],[.31,.345],[.315,.3],[.33,.29],[.335,.35],[.345,.33],[.355,.35],[.365,.4],[.375,.38],[.385,.41],[.395,.37],[.41,.39],[.415,.38],[.425,.4],[.435,.37],[.44,.43],[.455,.39],[.46,.45],[.47,.43],[.48,.47],[.49,.46],[.51,.48],[.52,.52],[.53,.47],[.545,.5],[.56,.56],[.57,.54],[.585,.56],[.595,.58],[.61,.59],[.625,.6],[.63,.56],[.64,.6],[.65,.62],[.67,.62],[.69,.64],[.7,.65],[.71,.68],[.72,.63],[.73,.64],[.755,.68],[.77,.72],[.78,.7],[.785,.68],[.805,.72],[.815,.74],[.825,.74],[.835,.72],[.84,.76],[.855,.8],[.865,.79],[.88,.8],[.895,.8],[.9,.77],[.91,.83],[.92,.82],[.93,.84],[.94,.86],[.945,.82],[.96,.89],[.97,.9],[.975,.86],[.99,.91]
];

const panelPoints = [rootMxb1Points, rootMyb1Points, rootMzb1Points, twrBsMxtPoints, twrBsMytPoints, twrBsMztPoints];

// Where each plot area sits on the page
const plotLeft = [144.5, 1224, 2305, 144.5, 1224, 2305];
const plotRight = [1091, 2171, 3250, 1091, 2171, 3250];
const plotTop = [83.5, 83.5, 83.5, 1083.5, 1083.5, 1083.5];
const plotBottom = [823.5, 823.5, 823.5, 1825, 1825, 1825];

const serif = '"Liberation Serif", "Times New Roman", serif';
const textColor = '#333333';
const frameColor = '#808080';

/**
 * Draws the box round the plot and the inward ticks on all four sides
 */
const framePlugin = {
  id: 'frame',
  beforeDatasetsDraw(chart) {
    const { ctx, chartArea: a, scales } = chart;
    ctx.save();
    ctx.strokeStyle = '#404040';
    ctx.lineWidth = 1.5;
    ctx.beginPath();
    scales.x.ticks.forEach(t => {
      const px = scales.x.getPixelForValue(t.value);
      ctx.moveTo(px, a.top); ctx.lineTo(px, a.top + 9);
      ctx.moveTo(px, a.bottom); ctx.lineTo(px, a.bottom - 9);
    });
    scales.y.ticks.forEach(t => {
      const py = scales.y.getPixelForValue(t.value);
      ctx.moveTo(a.left, py); ctx.lineTo(a.left + 9, py);
      ctx.moveTo(a.right, py); ctx.lineTo(a.right - 9, py);
    });
    ctx.stroke();
    ctx.strokeStyle = frameColor;
    ctx.lineWidth = 3;
    ctx.strokeRect(a.left, a.top, a.right - a.left, a.bottom - a.top);
    ctx.restore();
  }
};

/**
 * Writes the MSE note inside the plot
 */
const msePlugin = {
  id: 'mse',
  afterDraw(chart, args, opts) {
    const { ctx, scales } = chart;
    ctx.save();
    ctx.font = '37px "Liberation Sans", Arial, sans-serif';
    ctx.fillStyle = '#111111';
    ctx.textBaseline = 'middle';
    ctx.fillText(opts.text, scales.x.getPixelForValue(0.1), scales.y.getPixelForValue(0.9) + 4);
    ctx.restore();
  }
};

/**
 * Creates one scatter panel, its canvas placed so the plot area lands where it should
 */
function createPanel(i) {
  const marginLeft = 140, marginRight = 30, marginTop = 80, marginBottom = 130;
  const canvas = document.createElement('canvas');
  const left = plotLeft[i] - marginLeft;
  const top = plotTop[i] - marginTop;
  const width = plotRight[i] - plotLeft[i] + marginLeft + marginRight;
  const height = plotBottom[i] - plotTop[i] + marginTop + marginBottom;
  canvas.style.left = left + 'px';
  canvas.style.top = top + 'px';
  canvas.width = width;
  canvas.height = height;
  document.getElementById('page').appendChild(canvas);

  return new Chart(canvas.getContext('2d'), {
    type: 'scatter',
    data: {
      datasets: [{
        data: panelPoints[i],
        backgroundColor: '#0000ff',
        borderWidth: 0,
        pointRadius: 9.5,
        clip: false,
        order: 1
      }, {
        data: referenceLine,
        showLine: true,
        borderColor: '#ff5050',
        borderWidth: 1.5,
        borderDash: [14, 8],
        pointRadius: 0,
        order: 2
      }]
    },
    options: {
      responsive: false,
      animation: false,
      layout: { padding: { top: 33, right: marginRight } },
      plugins: {
        legend: { display: false },
        tooltip: { enabled: false },
        mse: { text: mseLabels[i] },
        title: {
          display: true,
          fullSize: false,
          text: panelTitles[i],
          color: textColor,
          font: { family: serif, size: 42, weight: 'normal', lineHeight: 1 },
          padding: { top: 0, bottom: 5 }
        }
      },
      scales: {
        x: {
          min: 0, max: 1,
          grid: { display: false, drawTicks: false },
          border: { display: false },
          ticks: {
            stepSize: 0.2, autoSkip: false, maxRotation: 0, padding: 18, color: textColor,
            font: { family: serif, size: 36 },
            callback: (v, idx) => tickLabels[idx]
          },
          title: {
            display: true, text: xAxisLabel, color: textColor, padding: 20,
            font: { family: serif, size: 42, lineHeight: 1 }
          },
          afterFit: s => { s.height = marginBottom; }
        },
        y: {
          min: 0, max: 1,
          grid: { display: false, drawTicks: false },
          border: { display: false },
          ticks: {
            stepSize: 0.2, autoSkip: false, padding: 16, labelOffset: 2, color: textColor,
            font: { family: serif, size: 36 },
            callback: (v, idx) => tickLabels[idx]
          },
          title: {
            display: true, text: yAxisLabel, color: textColor, padding: 27,
            font: { family: serif, size: 42, lineHeight: 1 }
          },
          afterFit: s => { s.width = marginLeft; }
        }
      }
    },
    plugins: [framePlugin, msePlugin]
  });
}

panelTitles.forEach((t, i) => createPanel(i));
</script>
</body>
</html>
